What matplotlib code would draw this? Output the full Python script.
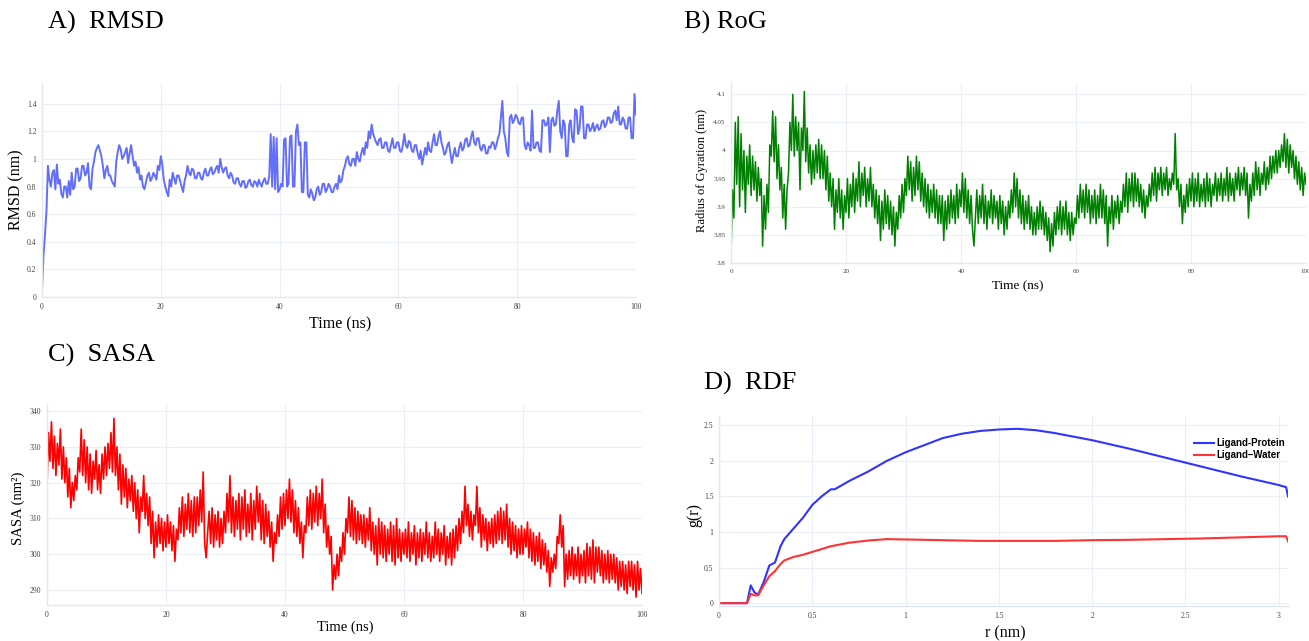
import numpy as np
import matplotlib
matplotlib.use("Agg")
import matplotlib.pyplot as plt
from matplotlib.ticker import FuncFormatter

plt.rcParams["font.family"] = ["Liberation Serif", "DejaVu Serif"]

time_ns = np.arange(0, 100.25, 0.25)

rmsd = [
    0.05, 0.30, 0.45, 0.62, 0.95, 0.85, 0.80, 0.90, 0.92, 0.78, 0.96, 0.82, 0.85, 0.75, 0.72, 0.80, 0.80, 0.72, 0.84, 0.74,
    0.90, 0.78, 0.80, 0.93, 0.93, 0.84, 0.86, 0.95, 0.95, 0.88, 0.90, 0.97, 0.80, 0.78, 0.93, 0.98, 1.05, 1.08, 1.10, 1.06,
    1.02, 0.95, 0.86, 0.92, 0.95, 0.88, 0.88, 0.84, 0.82, 0.80, 0.98, 1.05, 1.10, 1.07, 1.00, 1.02, 1.05, 1.08, 0.97, 1.04,
    1.10, 1.02, 0.95, 0.98, 0.90, 0.94, 0.85, 0.88, 0.80, 0.78, 0.83, 0.88, 0.90, 0.84, 0.86, 0.90, 0.88, 0.85, 0.95, 0.92,
    1.02, 0.96, 0.85, 0.80, 0.76, 0.73, 0.85, 0.80, 0.90, 0.86, 0.82, 0.88, 0.88, 0.84, 0.80, 0.76, 0.84, 0.88, 0.95, 0.90,
    0.88, 0.93, 0.92, 0.86, 0.86, 0.90, 0.90, 0.86, 0.85, 0.90, 0.93, 0.88, 0.88, 0.92, 0.94, 0.89, 0.90, 0.93, 0.95, 0.90,
    1.00, 0.94, 0.90, 0.93, 0.94, 0.88, 0.86, 0.90, 0.88, 0.83, 0.82, 0.86, 0.86, 0.82, 0.80, 0.84, 0.84, 0.79, 0.80, 0.84,
    0.85, 0.81, 0.80, 0.84, 0.83, 0.80, 0.85, 0.82, 0.80, 0.84, 0.86, 0.82, 0.82, 0.87, 1.18, 0.80, 1.16, 0.78, 1.15, 0.76,
    0.78, 0.82, 0.80, 1.14, 1.15, 0.80, 0.82, 1.16, 1.17, 0.80, 0.80, 1.20, 1.25, 1.10, 1.12, 0.76, 0.76, 1.12, 1.12, 0.74,
    0.72, 0.78, 0.75, 0.70, 0.72, 0.78, 0.80, 0.74, 0.76, 0.82, 0.82, 0.76, 0.78, 0.82, 0.80, 0.76, 0.76, 0.80, 0.82, 0.78,
    0.88, 0.83, 0.85, 0.92, 0.95, 1.00, 1.02, 0.96, 0.95, 1.00, 1.00, 0.95, 1.05, 1.00, 0.98, 1.04, 1.08, 1.03, 1.12, 1.08,
    1.20, 1.15, 1.25, 1.18, 1.15, 1.12, 1.10, 1.14, 1.15, 1.08, 1.08, 1.12, 1.12, 1.06, 1.05, 1.10, 1.15, 1.08, 1.08, 1.12,
    1.12, 1.06, 1.05, 1.10, 1.18, 1.10, 1.08, 1.13, 1.12, 1.06, 1.05, 1.10, 1.10, 1.04, 1.00, 1.06, 0.96, 1.02, 1.08, 1.03,
    1.12, 1.06, 1.05, 1.12, 1.18, 1.10, 1.10, 1.16, 1.20, 1.12, 1.08, 1.03, 1.05, 1.10, 1.12, 1.04, 0.97, 1.03, 1.08, 1.02,
    1.02, 1.08, 1.12, 1.06, 1.08, 1.14, 1.15, 1.09, 1.10, 1.16, 1.20, 1.12, 1.10, 1.15, 1.15, 1.08, 1.06, 1.10, 1.10, 1.04,
    1.04, 1.09, 1.08, 1.12, 1.12, 1.07, 1.10, 1.15, 1.18, 1.30, 1.42, 1.20, 1.15, 1.05, 1.02, 1.30, 1.32, 1.26, 1.28, 1.32,
    1.30, 1.26, 1.25, 1.30, 1.30, 1.10, 1.07, 1.12, 1.10, 1.06, 1.35, 1.08, 1.08, 1.12, 1.12, 1.06, 1.05, 1.28, 1.28, 1.24,
    1.25, 1.30, 1.05, 1.28, 1.30, 1.24, 1.25, 1.35, 1.42, 1.20, 1.15, 1.28, 1.25, 1.02, 1.02, 1.25, 1.28, 1.15, 1.12, 1.36,
    1.35, 1.18, 1.22, 1.38, 1.38, 1.15, 1.15, 1.25, 1.25, 1.20, 1.22, 1.26, 1.20, 1.23, 1.25, 1.21, 1.22, 1.27, 1.28, 1.23,
    1.25, 1.30, 1.30, 1.26, 1.27, 1.33, 1.35, 1.28, 1.38, 1.25, 1.25, 1.30, 1.28, 1.22, 1.22, 1.30, 1.30, 1.15, 1.15, 1.47,
    1.32,
]

rog = [
    3.81, 3.93, 3.88, 4.05, 3.94, 4.06, 3.90, 4.03, 3.93, 4.00, 3.89, 3.99, 3.94, 4.01, 3.92, 3.99, 3.93, 3.98, 3.91, 3.97,
    3.92, 3.95, 3.83, 3.92, 3.86, 3.94, 3.89, 4.01, 3.99, 4.07, 3.98, 4.06, 3.95, 4.01, 3.93, 3.97, 3.88, 3.94, 3.86, 3.93,
    3.96, 4.05, 4.00, 4.10, 3.99, 4.06, 4.00, 4.05, 3.93, 4.04, 4.00, 4.105, 3.98, 4.04, 3.96, 4.01, 3.94, 4.00, 3.95, 4.01,
    3.96, 4.02, 3.95, 4.01, 3.95, 4.00, 3.93, 3.99, 3.91, 3.96, 3.90, 3.95, 3.86, 3.93, 3.89, 3.95, 3.88, 3.93, 3.86, 3.92,
    3.89, 3.95, 3.88, 3.94, 3.90, 3.96, 3.89, 3.95, 3.91, 3.98, 3.90, 3.96, 3.92, 3.97, 3.90, 3.95, 3.91, 3.97, 3.90, 3.94,
    3.88, 3.93, 3.87, 3.92, 3.84, 3.91, 3.86, 3.93, 3.87, 3.92, 3.86, 3.91, 3.85, 3.90, 3.83, 3.89, 3.86, 3.92, 3.88, 3.94,
    3.89, 3.95, 3.92, 3.99, 3.93, 3.98, 3.91, 3.97, 3.92, 3.99, 3.93, 3.98, 3.91, 3.96, 3.90, 3.95, 3.89, 3.94, 3.88, 3.93,
    3.89, 3.94, 3.88, 3.93, 3.87, 3.92, 3.87, 3.92, 3.84, 3.91, 3.86, 3.92, 3.87, 3.93, 3.88, 3.92, 3.87, 3.94, 3.88, 3.93,
    3.90, 3.96, 3.89, 3.95, 3.88, 3.93, 3.87, 3.92, 3.86, 3.83, 3.88, 3.93, 3.87, 3.92, 3.88, 3.94, 3.87, 3.92, 3.86, 3.91,
    3.88, 3.93, 3.87, 3.92, 3.88, 3.91, 3.86, 3.92, 3.87, 3.91, 3.85, 3.90, 3.86, 3.91, 3.88, 3.93, 3.89, 3.96, 3.90, 3.95,
    3.88, 3.93, 3.87, 3.92, 3.86, 3.91, 3.87, 3.92, 3.86, 3.90, 3.85, 3.89, 3.85, 3.90, 3.86, 3.91, 3.86, 3.90, 3.85, 3.89,
    3.84, 3.88, 3.82, 3.87, 3.83, 3.89, 3.85, 3.90, 3.86, 3.91, 3.85, 3.90, 3.86, 3.91, 3.85, 3.89, 3.84, 3.89, 3.85, 3.88,
    3.87, 3.92, 3.88, 3.94, 3.89, 3.93, 3.88, 3.94, 3.89, 3.93, 3.87, 3.92, 3.88, 3.93, 3.87, 3.92, 3.88, 3.94, 3.88, 3.93,
    3.87, 3.92, 3.83, 3.90, 3.87, 3.92, 3.86, 3.91, 3.88, 3.92, 3.87, 3.91, 3.89, 3.94, 3.90, 3.96, 3.89, 3.95, 3.91, 3.96,
    3.90, 3.96, 3.91, 3.95, 3.90, 3.94, 3.89, 3.93, 3.88, 3.92, 3.90, 3.94, 3.91, 3.96, 3.92, 3.97, 3.91, 3.96, 3.93, 3.97,
    3.92, 3.96, 3.93, 3.97, 3.92, 3.95, 3.93, 3.96, 3.94, 4.03, 3.93, 3.95, 3.90, 3.94, 3.87, 3.92, 3.89, 3.94, 3.90, 3.95,
    3.91, 3.96, 3.90, 3.95, 3.91, 3.96, 3.90, 3.94, 3.91, 3.95, 3.90, 3.96, 3.91, 3.95, 3.90, 3.94, 3.92, 3.96, 3.91, 3.95,
    3.92, 3.96, 3.91, 3.95, 3.92, 3.97, 3.91, 3.96, 3.92, 3.95, 3.91, 3.96, 3.93, 3.97, 3.92, 3.96, 3.93, 3.97, 3.92, 3.96,
    3.88, 3.94, 3.91, 3.96, 3.92, 3.98, 3.93, 3.97, 3.92, 3.96, 3.94, 3.98, 3.93, 3.97, 3.94, 3.99, 3.95, 3.99, 3.96, 4.00,
    3.96, 4.00, 3.97, 4.01, 3.98, 4.03, 3.97, 4.02, 3.96, 4.01, 3.97, 4.00, 3.95, 3.99, 3.94, 3.98, 3.93, 3.97, 3.92, 3.96,
    3.94,
]

sasa = [
    319, 334, 326, 337, 324, 333, 322, 331, 325, 335, 321, 330, 320, 327, 316, 324, 313, 320, 315, 322,
    318, 327, 323, 335, 322, 332, 320, 330, 318, 328, 317, 326, 321, 329, 318, 325, 317, 328, 321, 330,
    322, 331, 324, 334, 323, 338, 322, 330, 318, 328, 314, 325, 316, 324, 313, 321, 315, 322, 312, 320,
    310, 318, 306, 316, 312, 322, 310, 317, 308, 316, 303, 312, 299, 309, 302, 311, 303, 310, 301, 309,
    302, 311, 303, 309, 301, 308, 298, 307, 304, 313, 306, 316, 305, 314, 307, 317, 306, 315, 305, 316,
    306, 316, 308, 318, 309, 323, 303, 299, 306, 312, 303, 313, 302, 311, 304, 312, 302, 310, 303, 312,
    306, 317, 309, 322, 306, 316, 305, 315, 307, 317, 304, 316, 307, 318, 305, 314, 306, 317, 304, 315,
    307, 319, 309, 317, 304, 315, 303, 314, 305, 312, 302, 309, 298, 306, 303, 311, 305, 316, 307, 317,
    308, 318, 310, 321, 309, 318, 306, 315, 305, 313, 303, 309, 299, 308, 306, 316, 308, 318, 307, 317,
    309, 319, 308, 317, 310, 321, 306, 314, 302, 308, 300, 305, 290, 297, 293, 300, 294, 302, 298, 306,
    300, 310, 306, 316, 305, 315, 304, 313, 303, 312, 304, 311, 303, 311, 302, 310, 304, 313, 301, 309,
    300, 308, 297, 310, 300, 309, 299, 308, 298, 307, 300, 309, 298, 308, 297, 310, 299, 307, 298, 306,
    300, 307, 299, 309, 298, 306, 300, 308, 297, 306, 299, 307, 298, 306, 300, 309, 299, 306, 298, 305,
    299, 309, 300, 307, 298, 306, 300, 308, 297, 305, 299, 306, 297, 307, 299, 308, 301, 310, 303, 312,
    306, 319, 308, 314, 305, 312, 304, 311, 308, 319, 306, 313, 302, 311, 304, 310, 301, 309, 303, 310,
    302, 311, 303, 312, 304, 313, 303, 312, 304, 314, 302, 310, 300, 309, 301, 308, 299, 307, 300, 308,
    300, 307, 302, 309, 299, 307, 298, 306, 297, 305, 298, 306, 296, 304, 297, 303, 295, 301, 291, 299,
    295, 300, 296, 305, 303, 311, 302, 308, 291, 300, 293, 301, 294, 302, 293, 300, 294, 302, 292, 300,
    294, 301, 292, 303, 294, 302, 293, 304, 292, 302, 295, 302, 294, 301, 292, 300, 293, 301, 292, 300,
    293, 300, 292, 299, 290, 298, 291, 298, 290, 297, 289, 298, 291, 298, 290, 297, 288, 298, 290, 296,
    289,
]

rdf_r = [0.0, 0.15, 0.17, 0.19, 0.21, 0.24, 0.27, 0.30, 0.33, 0.35,
         0.40, 0.45, 0.50, 0.55, 0.60, 0.62, 0.70, 0.80, 0.90, 1.00,
         1.10, 1.20, 1.30, 1.40, 1.50, 1.60, 1.70, 1.80, 1.90, 2.00,
         2.20, 2.40, 2.60, 2.80, 3.00, 3.04, 3.05]
rdf_protein = [0.0, 0.0, 0.25, 0.15, 0.12, 0.30, 0.53, 0.57, 0.80, 0.90,
               1.05, 1.20, 1.38, 1.50, 1.60, 1.60, 1.72, 1.85, 2.00, 2.12,
               2.22, 2.32, 2.38, 2.42, 2.44, 2.45, 2.43, 2.39, 2.34, 2.29,
               2.17, 2.04, 1.91, 1.78, 1.66, 1.63, 1.50]
rdf_water = [0.0, 0.0, 0.13, 0.11, 0.11, 0.25, 0.38, 0.45, 0.55, 0.60,
             0.65, 0.68, 0.72, 0.76, 0.80, 0.81, 0.85, 0.88, 0.90, 0.895,
             0.89, 0.885, 0.88, 0.875, 0.875, 0.875, 0.875, 0.875, 0.88, 0.885,
             0.89, 0.90, 0.91, 0.925, 0.94, 0.94, 0.87]

W, H = 1309, 641
GRID = "#EBF0F8"
TICK = "#444444"


def px_axes(fig, left, top, right, bottom):
    return fig.add_axes([left / W, 1 - bottom / H, (right - left) / W, (bottom - top) / H])


def style(ax, xticks, yticks, tick_size=5.5):
    ax.set_xticks(xticks)
    ax.set_yticks(yticks)
    fmt = FuncFormatter(lambda v, p: f"{v:g}")
    ax.xaxis.set_major_formatter(fmt)
    ax.yaxis.set_major_formatter(fmt)
    ax.grid(True, color=GRID, linewidth=0.8)
    ax.set_axisbelow(True)
    for s in ("top", "right"):
        ax.spines[s].set_visible(False)
    for s in ("left", "bottom"):
        ax.spines[s].set_color("#E2E8F2")
        ax.spines[s].set_linewidth(1.0)
    ax.tick_params(length=0, labelsize=tick_size, colors=TICK, pad=4)


def ftext(x, y, s, **kw):
    fig.text(x / W, 1 - y / H, s, **kw)


fig = plt.figure(figsize=(W / 100, H / 100), dpi=100)
fig.patch.set_facecolor("white")

# ── A) RMSD ──────────────────────────────────────────────────
axA = px_axes(fig, 42, 83, 636, 297)
axA.plot(time_ns, rmsd, color="#636EFA", linewidth=1.4)
axA.set_xlim(0, 100)
axA.set_ylim(0, 1.55)
style(axA, range(0, 101, 20), np.arange(0, 1.41, 0.2))

# ── B) RoG ───────────────────────────────────────────────────
axB = px_axes(fig, 731, 83, 1306, 263)
axB.plot(time_ns, rog, color="#008000", linewidth=1.1)
axB.set_xlim(0, 100)
axB.set_ylim(3.8, 4.12)
style(axB, range(0, 101, 20), [3.8, 3.85, 3.9, 3.95, 4.0, 4.05, 4.1], tick_size=5)

# ── C) SASA ──────────────────────────────────────────────────
axC = px_axes(fig, 47, 404, 642, 605)
axC.plot(time_ns, sasa, color="#FF0000", linewidth=1.2)
axC.set_xlim(0, 100)
axC.set_ylim(285.8, 342)
style(axC, range(0, 101, 20), range(290, 341, 10))

# ── D) RDF ───────────────────────────────────────────────────
axD = px_axes(fig, 719, 416, 1288, 606)
axD.plot(rdf_r, rdf_protein, color="#3333FF", linewidth=1.5, label="Ligand-Protein")
axD.plot(rdf_r, rdf_water, color="#FF3333", linewidth=1.5, label="Ligand\u2013Water")
axD.set_xlim(0, 3.05)
axD.set_ylim(-0.04, 2.63)
style(axD, [0, 0.5, 1, 1.5, 2, 2.5, 3], [0, 0.5, 1, 1.5, 2, 2.5])
axD.legend(loc="upper left", bbox_to_anchor=(0.82, 0.93), frameon=False,
           handlelength=2.0, handletextpad=0.3, labelspacing=0.25,
           prop={"family": "Liberation Sans", "weight": "bold", "size": 7})

# ── Panel titles and axis titles ─────────────────────────────
title_kw = dict(fontsize=19, color="black", va="center", ha="left")
ftext(48, 22, "A)  RMSD", **title_kw)
ftext(684, 22, "B) RoG", **title_kw)
ftext(48, 355, "C)  SASA", **title_kw)
ftext(704, 383, "D)  RDF", **title_kw)

ftext(340, 324, "Time (ns)", fontsize=11.5, ha="center", va="center")
ftext(16, 190, "RMSD (nm)", fontsize=11.5, ha="center", va="center", rotation=90)

ftext(1018, 286, "Time (ns)", fontsize=9.5, ha="center", va="center")
ftext(702, 170, "Radius of Gyration (nm)", fontsize=9, ha="center", va="center", rotation=90)

ftext(345, 627, "Time (ns)", fontsize=10.5, ha="center", va="center")
ftext(18, 508, "SASA (nm\u00b2)", fontsize=10.5, ha="center", va="center", rotation=90)

ftext(1005, 633, "r (nm)", fontsize=11.5, ha="center", va="center")
ftext(694, 515, "g(r)", fontsize=11.5, ha="center", va="center", rotation=90)

fig.savefig("out.png", dpi=100, facecolor="white")
